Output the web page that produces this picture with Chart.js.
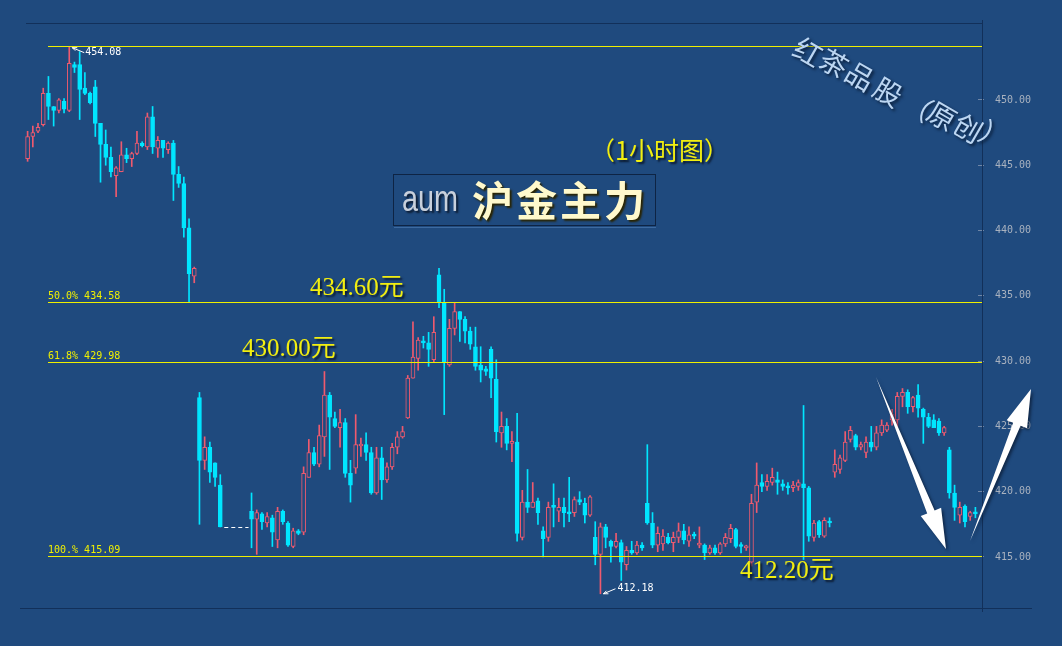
<!DOCTYPE html>
<html>
<head>
<meta charset="utf-8">
<script src="https://cdn.jsdelivr.net/npm/chart.js@4.4.0/dist/chart.umd.min.js"></script>
<style>
html, body { margin: 0; padding: 0; background: #1f4a7e; }
canvas { display: block; }
</style>
</head>
<body>
<canvas id="goldChart" width="1062" height="646"></canvas>
<script>
// hourly candles, aum 沪金主力 (null = empty slots drawn as dashes)
const openPrices = [
  445.5,447.2,447.6,448.1,450.5,449.5,449.2,449.9,449.2,452.7, 452.7,450.9,450.5,451.0,448.2,446.6,445.6,444.2,444.5,445.8,
  445.5,445.9,446.7,446.4,448.7,446.3,446.9,446.2,446.7,444.3, 443.6,440.2,436.5,
  427.2,422.4,423.4,422.2,420.5,
  null,null,null,null,null,
  418.5,417.9,418.3,417.6,418.0,416.3,418.5,417.6,415.8,417.0, 416.9,421.1,423.0,422.1,424.2,427.4,425.6,424.9,425.3,421.4,
  421.8,423.5,423.6,423.0,
  419.9,422.6,420.9,421.9,423.4,424.2,425.65,428.7,430.2,431.5, 431.4,430.1,436.6,434.5,429.7,432.5,433.8,433.2,432.3,431.1,
  429.7,429.4,430.9,428.6,424.5,425.0,423.7,423.8,416.5,419.2, 418.8,419.3,417.0,416.5,
  418.9,418.5,418.8,418.4,418.4,419.4,419.1,418.2,416.5,415.2, 417.3,416.2,415.8,416.1,414.4,415.5,415.3,415.9,419.1,417.6,
  415.9,416.0,416.5,416.1,416.5,417.0,416.2,416.7,415.9,415.9, 415.3,415.7,415.3,416.0,416.4,417.1,415.9,415.7,
  414.6,419.2,420.7,420.4,420.7,420.9,420.6,420.4,420.3,420.4, 420.6,420.3,416.5,417.7,416.6,417.7,421.5,421.7,422.4,424.0,
  424.3,423.4,423.0,423.8,423.4,424.5,424.7,425.5,425.5,427.3, 427.6,426.5,427.4,426.3,425.7,425.5,425.4,424.5,423.2,419.9,
  418.2,418.9,418.1,418.4
];
const highPrices = [
  447.6,448.0,448.2,450.9,451.8,449.5,450.1,450.1,454.08,452.9, 453.7,452.1,450.6,451.5,448.2,447.7,446.4,444.9,446.8,446.3,
  446.0,447.6,446.8,449.0,449.5,447.2,446.9,446.8,446.9,444.9, 444.1,440.9,437.2,
  427.6,424.2,423.8,422.2,421.3,
  null,null,null,null,null,
  419.9,418.6,418.4,418.4,418.2,418.8,418.6,417.7,417.2,417.1, 421.9,424.0,423.4,425.1,429.2,427.6,426.1,426.3,425.6,422.4,
  425.9,424.1,424.5,423.4,
  423.4,423.4,422.2,423.7,424.6,425.0,428.9,433.0,431.8,431.9, 432.2,433.4,437.1,435.5,433.2,434.5,433.8,433.4,432.6,432.6,
  431.1,429.6,431.1,430.1,426.1,425.6,424.6,426.0,420.1,421.7, 420.7,419.5,417.3,419.2,
  420.6,419.5,419.5,421.1,419.6,420.0,419.5,419.7,417.7,417.6, 417.5,416.3,416.8,416.3,415.8,416.2,416.2,416.1,423.6,418.4,
  417.3,417.1,416.8,416.9,417.6,417.5,417.3,416.9,417.3,416.0, 415.9,415.9,416.1,416.8,417.5,417.2,416.1,415.9,
  419.8,422.2,421.3,421.3,421.8,421.5,420.9,420.7,420.8,420.9, 426.6,420.4,417.8,417.8,418.0,418.0,423.2,422.8,424.6,425.0,
  424.4,423.8,424.2,425.0,425.0,425.5,425.3,426.3,427.6,427.9, 427.8,427.3,428.2,426.4,426.0,425.9,425.6,425.0,423.4,420.5,
  419.2,419.0,418.5,418.8
];
const lowPrices = [
  445.3,446.4,447.5,448.0,448.5,448.0,449.0,449.0,449.1,452.1, 448.5,450.4,449.7,447.2,443.7,445.0,444.1,442.6,444.5,445.2,
  444.9,445.8,446.4,446.2,445.9,445.6,445.6,445.9,442.3,443.3, 439.5,434.5,436.0,
  417.5,421.7,420.7,420.4,417.3,
  null,null,null,null,null,
  415.7,415.2,417.1,417.3,415.8,415.7,417.5,415.8,415.7,416.7, 416.7,421.1,422.0,421.9,422.7,421.7,424.9,423.4,421.1,419.2,
  421.4,422.7,422.4,419.8,
  419.8,419.4,420.7,421.7,422.9,424.1,425.6,428.7,429.3,431.0, 429.6,429.9,434.1,425.9,429.6,432.0,431.5,431.4,430.9,429.3,
  428.4,428.9,427.2,423.8,423.4,423.2,422.3,416.2,416.3,418.4, 418.8,417.5,415.0,416.2,
  417.3,417.7,417.3,417.7,418.1,419.0,417.6,418.1,414.4,412.18, 415.7,414.6,415.7,413.2,414.0,415.2,415.2,415.5,417.5,415.7,
  415.4,415.5,416.0,415.4,416.1,416.0,415.8,416.4,415.7,414.8, 415.2,415.2,415.2,415.8,416.1,415.7,415.3,415.5,
  414.3,418.4,420.0,420.1,420.5,419.8,420.1,419.8,420.0,420.1, 414.8,416.2,416.2,416.5,416.5,417.3,421.1,421.4,422.3,423.8,
  423.2,423.2,422.6,423.1,423.2,424.3,424.6,425.1,424.7,426.5, 426.0,426.1,425.7,423.7,424.9,424.9,424.3,424.3,419.5,417.8,
  417.6,417.3,417.8,418.0
];
const closePrices = [
  447.2,447.5,447.9,450.5,449.5,449.2,450.0,449.3,452.8,452.5, 450.8,450.5,449.8,448.2,446.6,445.6,444.5,444.8,445.8,445.5,
  445.9,446.7,446.5,448.7,446.4,446.9,446.3,446.7,444.3,443.6, 440.2,436.7,437.1,
  422.4,423.4,421.5,421.1,417.3,
  null,null,null,null,null,
  417.9,418.4,417.7,418.1,416.9,418.5,417.7,415.9,417.0,416.8, 421.4,423.0,422.1,424.3,427.4,425.7,425.0,425.3,421.4,420.5,
  423.6,423.6,423.0,419.9,
  422.6,420.9,421.9,423.4,424.2,424.6,428.7,430.3,431.6,431.4, 430.9,432.2,434.5,429.9,432.5,433.8,433.2,432.3,431.3,429.6,
  429.3,429.2,428.7,424.6,425.0,423.7,423.8,416.8,419.2,418.8, 419.2,418.4,416.4,418.8,
  418.8,418.8,418.4,418.3,419.4,419.2,418.2,419.6,415.2,417.3, 416.5,415.8,416.2,414.6,415.5,415.3,415.9,415.7,417.6,415.9,
  416.8,416.6,416.1,416.5,417.0,416.3,416.7,416.6,416.0,415.3, 415.7,415.3,416.0,416.5,417.2,415.8,415.8,415.8,
  419.1,420.5,420.4,420.8,421.1,420.7,420.4,420.3,420.5,420.7, 420.3,416.6,417.6,416.7,417.8,417.6,422.1,422.6,423.8,424.7,
  423.4,423.6,423.8,423.4,424.5,425.1,425.1,425.9,427.3,427.6, 426.5,427.2,426.4,425.7,425.0,424.9,424.5,424.9,419.9,418.8,
  418.8,417.7,418.4,418.3
];
const yTicks = [415, 420, 425, 430, 435, 440, 445, 450];
const fibLevels = [454.08, 434.58, 429.98, 415.09];
const fibTags = ["", "50.0% 434.58", "61.8% 429.98", "100.% 415.09"];
const slotLabels = openPrices.map((v, i) => String(i + 1));

const bgColor = "#1f4a7e";
const upColor = "#ef5a6e";
const downColor = "#00e6ff";
const yellow = "#f0f000";

const isUp = openPrices.map((o, i) => o != null && closePrices[i] >= o);
const candleColor = openPrices.map((o, i) => isUp[i] ? upColor : downColor);
const bodyFill = openPrices.map((o, i) => isUp[i] ? bgColor : downColor);
const wickData = lowPrices.map((l, i) => l == null ? null : [l, highPrices[i]]);
const bodyData = openPrices.map((o, i) => o == null ? null : [Math.min(o, closePrices[i]), Math.max(o, closePrices[i])]);

function shadowText(ctx, text, x, y, fill, shadow, off) {
  ctx.save();
  ctx.shadowColor = shadow;
  ctx.shadowOffsetX = off;
  ctx.shadowOffsetY = off;
  ctx.shadowBlur = 2;
  ctx.fillStyle = fill;
  ctx.fillText(text, x, y);
  ctx.restore();
}

function drawArrow(ctx, tx, ty, hx, hy, headLen, shaftW, headW) {
  let dx = hx - tx, dy = hy - ty;
  let len = Math.sqrt(dx * dx + dy * dy);
  let ux = dx / len, uy = dy / len;
  let nx = -uy, ny = ux;
  let bx = hx - ux * headLen, by = hy - uy * headLen;
  ctx.save();
  ctx.shadowColor = "rgba(10,25,50,0.7)";
  ctx.shadowOffsetX = 2;
  ctx.shadowOffsetY = 2;
  ctx.shadowBlur = 3;
  ctx.fillStyle = "#ffffff";
  ctx.beginPath();
  ctx.moveTo(tx, ty);
  ctx.lineTo(bx + nx * shaftW, by + ny * shaftW);
  ctx.lineTo(bx + nx * headW, by + ny * headW);
  ctx.lineTo(hx, hy);
  ctx.lineTo(bx - nx * headW, by - ny * headW);
  ctx.lineTo(bx - nx * shaftW, by - ny * shaftW);
  ctx.closePath();
  ctx.fill();
  ctx.restore();
}

const decorPlugin = {
  id: "decor",
  beforeDraw(chart) {
    let ctx = chart.ctx;
    ctx.save();
    ctx.fillStyle = bgColor;
    ctx.fillRect(0, 0, chart.width, chart.height);
    ctx.restore();
  },
  afterDatasetsDraw(chart) {
    let ctx = chart.ctx;
    let area = chart.chartArea;
    let xs = chart.scales.x, ys = chart.scales.y;
    let right = area.right + 4;

    ctx.save();
    // frame
    ctx.strokeStyle = "#12305a";
    ctx.lineWidth = 1;
    ctx.beginPath();
    ctx.moveTo(26, 23.5); ctx.lineTo(right, 23.5);
    ctx.moveTo(right + 0.5, 20); ctx.lineTo(right + 0.5, 612);
    ctx.moveTo(20, 608.5); ctx.lineTo(1032, 608.5);
    ctx.stroke();

    // fib lines
    ctx.font = "10px 'DejaVu Sans Mono'";
    ctx.textBaseline = "bottom";
    fibLevels.forEach((lv, k) => {
      let y = 2 * Math.round(ys.getPixelForValue(lv) / 2);
      ctx.fillStyle = yellow;
      ctx.fillRect(48, y, right - 48, 1);
      if (fibTags[k]) {
        ctx.fillText(fibTags[k], 48, y - 1);
      }
    });

    // empty slots dashes
    let dy = Math.round(ys.getPixelForValue(closePrices[37])) + 0.5;
    ctx.strokeStyle = "#ffffff";
    ctx.setLineDash([4, 3]);
    ctx.beginPath();
    ctx.moveTo(xs.getPixelForValue(37) + 4, dy);
    ctx.lineTo(xs.getPixelForValue(43) - 3, dy);
    ctx.stroke();
    ctx.setLineDash([]);

    // high / low markers
    ctx.font = "10px 'DejaVu Sans Mono'";
    ctx.textBaseline = "middle";
    ctx.fillStyle = "#ffffff";
    let hx = xs.getPixelForValue(8), hy = ys.getPixelForValue(highPrices[8]);
    ctx.beginPath();
    ctx.moveTo(hx + 3, hy + 1); ctx.lineTo(hx + 15, hy + 6);
    ctx.moveTo(hx + 3, hy + 1); ctx.lineTo(hx + 8, hy + 1);
    ctx.moveTo(hx + 3, hy + 1); ctx.lineTo(hx + 6, hy + 4);
    ctx.stroke();
    ctx.fillText(highPrices[8].toFixed(2), hx + 16, hy + 6);
    let lx = xs.getPixelForValue(110), ly = ys.getPixelForValue(lowPrices[110]);
    ctx.beginPath();
    ctx.moveTo(lx + 3, ly); ctx.lineTo(lx + 15, ly - 5);
    ctx.moveTo(lx + 3, ly); ctx.lineTo(lx + 8, ly);
    ctx.moveTo(lx + 3, ly); ctx.lineTo(lx + 6, ly - 3);
    ctx.stroke();
    ctx.fillText(lowPrices[110].toFixed(2), lx + 17, ly - 5);

    // price notes
    ctx.font = "25px 'Liberation Serif', 'Noto Sans CJK SC'";
    ctx.textBaseline = "middle";
    shadowText(ctx, "434.60元", 310, 288, "#f2ee10", "#0b1a30", 2);
    shadowText(ctx, "430.00元", 242, 349, "#f2ee10", "#0b1a30", 2);
    shadowText(ctx, "412.20元", 740, 571, "#f2ee10", "#0b1a30", 2);

    ctx.font = "25px 'Noto Sans CJK SC'";
    shadowText(ctx, "（1小时图）", 590, 150, "#f2ee10", "#0b1a30", 2);

    // title box
    ctx.strokeStyle = "#0e2444";
    ctx.strokeRect(393.5, 174.5, 262, 51);
    ctx.strokeStyle = "#3d6aa0";
    ctx.beginPath();
    ctx.moveTo(394, 227.5); ctx.lineTo(656, 227.5);
    ctx.stroke();
    ctx.save();
    ctx.translate(402, 201);
    ctx.scale(0.8, 1);
    ctx.font = "36px 'Liberation Sans'";
    shadowText(ctx, "aum", 0, 0, "#c8d0dc", "#0b1a30", 2);
    ctx.restore();
    ctx.font = "bold 41px 'Noto Sans CJK SC'";
    let title = "沪金主力";
    for (let i = 0; i < title.length; i++) {
      shadowText(ctx, title[i], 472 + i * 44, 200, "#fff9cc", "#2a2400", 2);
    }

    // watermark
    let mark = "红茶品股（原创）";
    let mx = [808, 834, 860, 888, 918, 942, 968, 994];
    let my = [52, 63, 76, 92, 106, 116, 128, 136];
    ctx.font = "28px 'Noto Sans CJK SC'";
    ctx.textAlign = "center";
    for (let i = 0; i < mark.length; i++) {
      ctx.save();
      ctx.translate(mx[i], my[i]);
      ctx.rotate(30 * Math.PI / 180);
      ctx.shadowColor = "#0a1e3a";
      ctx.shadowOffsetX = 2;
      ctx.shadowOffsetY = 2;
      ctx.shadowBlur = 3;
      ctx.fillStyle = "#bcd6f2";
      ctx.fillText(mark[i], 0, 0);
      ctx.restore();
    }
    ctx.textAlign = "left";

    // arrows
    drawArrow(ctx, 876, 377, 946, 549, 40, 4, 11);
    drawArrow(ctx, 970, 541, 1031, 389, 38, 4, 11);
    ctx.restore();
  }
};

const config = {
  type: "bar",
  data: {
    labels: slotLabels,
    datasets: [
      {
        label: "body",
        data: bodyData,
        backgroundColor: bodyFill,
        borderColor: candleColor,
        borderWidth: 1,
        borderSkipped: false,
        barThickness: 4,
        minBarLength: 2,
        grouped: false,
        order: 0
      },
      {
        label: "wick",
        data: wickData,
        backgroundColor: candleColor,
        barThickness: 1,
        grouped: false,
        order: 1
      }
    ]
  },
  options: {
    responsive: false,
    animation: false,
    devicePixelRatio: 1,
    layout: { padding: { left: 25, top: 22, right: 0, bottom: 38 } },
    plugins: { legend: { display: false }, tooltip: { enabled: false } },
    scales: {
      x: {
        type: "category",
        display: false,
        offset: true,
        grid: { display: false }
      },
      y: {
        position: "right",
        min: 411.09,
        max: 455.97,
        afterBuildTicks: (scale) => { scale.ticks = yTicks.map(v => ({ value: v })); },
        afterFit: (scale) => { scale.width = 84; },
        border: { display: false },
        grid: { drawOnChartArea: false, tickLength: 6, color: "#6f86a6" },
        ticks: {
          padding: 11,
          color: "#a9b2bf",
          font: { family: "'DejaVu Sans Mono'", size: 10 },
          callback: (v) => Number(v).toFixed(2)
        }
      }
    }
  },
  plugins: [decorPlugin]
};

let goldChart = new Chart(document.getElementById("goldChart"), config);
</script>
</body>
</html>
